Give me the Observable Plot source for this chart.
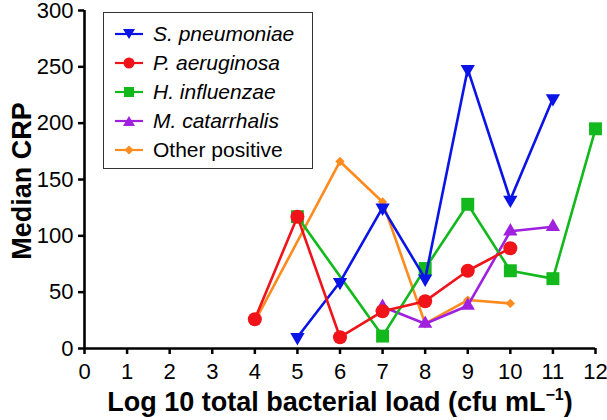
<!DOCTYPE html>
<html>
<head>
<meta charset="utf-8">
<script src="https://cdn.jsdelivr.net/npm/d3@7"></script>
<script src="https://cdn.jsdelivr.net/npm/@observablehq/plot@0.6"></script>
<style>
  body { margin: 0; background: #fff; font-family: "Liberation Sans", Arial, sans-serif; }
  #wrap { position: relative; width: 607px; height: 420px; }
  #legend { position: absolute; left: 103px; top: 12px; width: 208px; height: 155px;
            border: 1.5px solid #333; background: #fff; }
  .row { position: absolute; left: 11px; height: 29px; display: flex; align-items: center;
         font-size: 21px; color: #000; }
  .row svg { margin-right: 10px; }
  #xtitle { position: absolute; left: 84px; width: 512px; top: 387px; text-align: center;
            font-weight: bold; font-size: 27px; white-space: nowrap; }
  #xtitle sup { font-size: 16px; vertical-align: 11px; line-height: 0; }
  #ytitle { position: absolute; left: 22px; top: 181px; transform: translate(-50%, -50%) rotate(-90deg);
            font-weight: bold; font-size: 27px; white-space: nowrap; }
</style>
</head>
<body>
<div id="wrap"></div>
<script>
// ---- data ----
const seriesNames = ["S. pneumoniae", "P. aeruginosa", "H. influenzae", "M. catarrhalis", "Other positive"];
const italicNames = [true, true, true, true, false];
const colors = ["#0a14e6", "#f0141a", "#12b81c", "#a020e0", "#ff8a1e"];

const sPneumoniaeX = [5, 6, 7, 8, 9, 10, 11];
const sPneumoniaeY = [10, 59, 125, 62, 248, 132, 222];
const pAeruginosaX = [4, 5, 6, 7, 8, 9, 10];
const pAeruginosaY = [26, 117, 10, 33, 42, 69, 89];
const hInfluenzaeX = [5, 7, 8, 9, 10, 11, 12];
const hInfluenzaeY = [117, 11, 71, 128, 69, 62, 195];
const mCatarrhalisX = [7, 8, 9, 10, 11];
const mCatarrhalisY = [37, 22, 38, 104, 108];
const otherPositiveX = [4, 6, 7, 8, 9, 10];
const otherPositiveY = [24, 166, 130, 22, 43, 40];

const xTicks = [0, 1, 2, 3, 4, 5, 6, 7, 8, 9, 10, 11, 12];
const yTicks = [0, 50, 100, 150, 200, 250, 300];

const xTitle = "Log 10 total bacterial load (cfu mL";
const yTitle = "Median CRP";

// ---- build ----
const toRows = (xs, ys) => xs.map((x, i) => ({x, y: ys[i]}));
const S = toRows(sPneumoniaeX, sPneumoniaeY);
const P = toRows(pAeruginosaX, pAeruginosaY);
const H = toRows(hInfluenzaeX, hInfluenzaeY);
const M = toRows(mCatarrhalisX, mCatarrhalisY);
const O = toRows(otherPositiveX, otherPositiveY);

const lw = 2.6;
const series = [
  {data: O, color: colors[4], symbol: "diamond2", r: 4.2, rotate: 0},
  {data: M, color: colors[3], symbol: "triangle", r: 5.3, rotate: 0},
  {data: H, color: colors[2], symbol: "square", r: 7.3, rotate: 0},
  {data: S, color: colors[0], symbol: "triangle", r: 5.3, rotate: 180},
  {data: P, color: colors[1], symbol: "circle", r: 7, rotate: 0}
];

const marks = [];
for (const s of series) {
  marks.push(Plot.line(s.data, {x: "x", y: "y", stroke: s.color, strokeWidth: lw}));
  marks.push(Plot.dot(s.data, {x: "x", y: "y", fill: s.color, stroke: "none", symbol: s.symbol, r: s.r, rotate: s.rotate}));
}

const chart = Plot.plot({
  width: 607,
  height: 420,
  marginLeft: 84,
  marginRight: 12,
  marginTop: 10,
  marginBottom: 72,
  style: {fontFamily: "'Liberation Sans', Arial, sans-serif", background: "#fff", color: "#000", overflow: "visible"},
  x: {domain: [0, 12]},
  y: {domain: [0, 300]},
  marks: [
    Plot.axisX(xTicks, {tickSize: 6, tickPadding: 9, fontSize: 22, strokeWidth: 2.5, label: null, stroke: "#000", fill: "#000"}),
    Plot.axisY(yTicks, {tickSize: 6, tickPadding: 5, fontSize: 22, strokeWidth: 2.5, label: null, stroke: "#000", fill: "#000"}),
    ...marks,
    Plot.ruleX([0], {stroke: "#000", strokeWidth: 2.6}),
    Plot.ruleY([0], {stroke: "#000", strokeWidth: 2.6})
  ]
});

const wrap = document.getElementById("wrap");
wrap.appendChild(chart);

// axis titles
const xt = document.createElement("div");
xt.id = "xtitle";
xt.innerHTML = xTitle + "<sup>\u22121</sup>)";
wrap.appendChild(xt);
const yt = document.createElement("div");
yt.id = "ytitle";
yt.textContent = yTitle;
wrap.appendChild(yt);

// legend
const legend = document.createElement("div");
legend.id = "legend";
const legendSymbols = [
  (c) => `<path d="M8,2 L20,2 L14,12 Z" fill="${c}"/>`,
  (c) => `<circle cx="14" cy="7" r="5.5" fill="${c}"/>`,
  (c) => `<rect x="9" y="2" width="10" height="10" fill="${c}"/>`,
  (c) => `<path d="M8,12 L20,12 L14,2 Z" fill="${c}"/>`,
  (c) => `<path d="M14,2.5 L18.5,7 L14,11.5 L9.5,7 Z" fill="${c}"/>`
];
seriesNames.forEach((name, i) => {
  const row = document.createElement("div");
  row.className = "row";
  row.style.top = (6 + i * 29) + "px";
  const c = colors[i];
  row.innerHTML = `<svg width="28" height="14" viewBox="0 0 28 14"><line x1="0" y1="7" x2="28" y2="7" stroke="${c}" stroke-width="2.2"/>${legendSymbols[i](c)}</svg>` +
    `<span style="font-style:${italicNames[i] ? "italic" : "normal"}">${name}</span>`;
  legend.appendChild(row);
});
wrap.appendChild(legend);
</script>
</body>
</html>
